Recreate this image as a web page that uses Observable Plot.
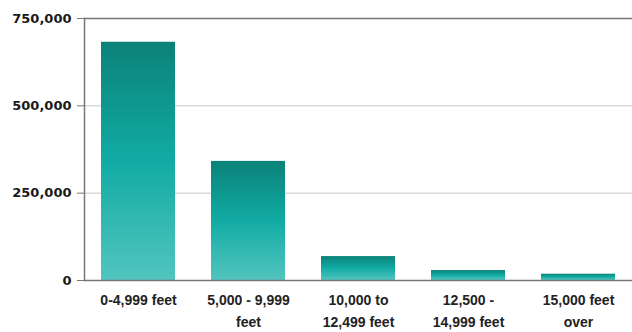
<!DOCTYPE html>
<html>
<head>
<meta charset="utf-8">
<script src="https://cdn.jsdelivr.net/npm/d3@7"></script>
<script src="https://cdn.jsdelivr.net/npm/@observablehq/plot@0.6"></script>
<style>
  html, body { margin: 0; padding: 0; background: #fff; }
  #chart { width: 632px; height: 332px; }
</style>
</head>
<body>
<div id="chart"></div>
<script>
const categories = ["0-4,999 feet", "5,000 - 9,999 feet", "10,000 to 12,499 feet", "12,500 - 14,999 feet", "15,000 feet over"];
const values = [682000, 341000, 68500, 28500, 18000];
const tickLabels = ["0-4,999 feet", "5,000 - 9,999\nfeet", "10,000 to\n12,499 feet", "12,500 -\n14,999 feet", "15,000 feet\nover"];
const yTicks = [0, 250000, 500000, 750000];

const data = categories.map((c, i) => ({category: c, value: values[i]}));
const labelOf = new Map(categories.map((c, i) => [c, tickLabels[i]]));

const svg = Plot.plot({
  width: 632,
  height: 332,
  marginTop: 18,
  marginBottom: 52,
  marginLeft: 84,
  marginRight: 0,
  style: {fontFamily: "'DejaVu Sans', sans-serif", background: "#fff"},
  x: {domain: categories, paddingInner: 0.33, paddingOuter: 0.15},
  y: {domain: [0, 750000]},
  marks: [
    Plot.gridY(yTicks.filter(d => d > 0 && d < 750000), {stroke: "#c8c8c8", strokeOpacity: 1, strokeWidth: 1}),
    Plot.ruleY([750000], {stroke: "#777", strokeWidth: 1.5}),
    Plot.barY(data, {x: "category", y: "value", fill: "url(#barGrad)"}),
    Plot.ruleY([0], {stroke: "#777", strokeWidth: 1.5}),
    Plot.frame({anchor: "left", stroke: "#777", strokeWidth: 1.5}),
    Plot.axisY({ticks: yTicks, tickFormat: d => d3.format(",")(d), tickSize: 7, tickPadding: 6,
      stroke: "#777", fill: "#1a1a1a", fontSize: 13, fontWeight: "bold", label: null}),
    Plot.axisX({tickSize: 0, tickPadding: 9, tickFormat: d => labelOf.get(d), lineHeight: 1.58,
      fill: "#222", fontSize: 14, fontWeight: "bold", fontFamily: "'Liberation Sans', Arial, sans-serif", label: null})
  ]
});

const sel = d3.select(svg);
const grad = sel.insert("defs", ":first-child").append("linearGradient")
  .attr("id", "barGrad").attr("x1", 0).attr("y1", 0).attr("x2", 0).attr("y2", 1);
grad.append("stop").attr("offset", "0%").attr("stop-color", "#0b8279");
grad.append("stop").attr("offset", "50%").attr("stop-color", "#11aba3");
grad.append("stop").attr("offset", "100%").attr("stop-color", "#52c5bf");

document.getElementById("chart").appendChild(svg);
</script>
</body>
</html>
